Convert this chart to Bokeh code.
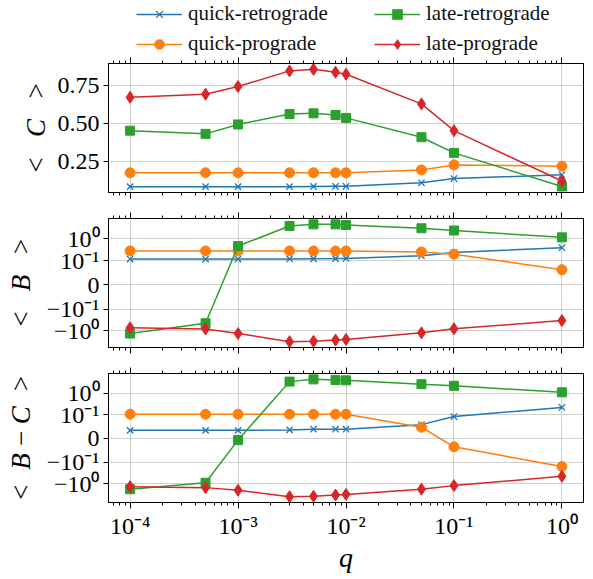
import numpy as np
from bokeh.plotting import figure
from bokeh.models import (Range1d, LogAxis, FixedTicker, CustomJSTickFormatter,
                          Legend, LegendItem, ColumnDataSource)
from bokeh.layouts import column
from bokeh.embed import file_html
from bokeh.resources import INLINE

# ---------------- data ----------------
q = [1e-4, 5e-4, 1e-3, 3e-3, 5e-3, 8e-3, 1e-2, 5e-2, 1e-1, 1.0]
names = ["quick-retrograde", "quick-prograde", "late-retrograde", "late-prograde"]

C_quick_retro = [0.088, 0.088, 0.088, 0.088, 0.089, 0.090, 0.090, 0.113, 0.141, 0.166]
C_quick_pro = [0.179, 0.179, 0.179, 0.179, 0.179, 0.179, 0.179, 0.198, 0.231, 0.222]
C_late_retro = [0.456, 0.435, 0.497, 0.565, 0.570, 0.559, 0.540, 0.413, 0.310, 0.089]
C_late_pro = [0.675, 0.696, 0.746, 0.849, 0.859, 0.840, 0.827, 0.632, 0.456, 0.125]

B_quick_retro = [0.119, 0.119, 0.119, 0.121, 0.123, 0.125, 0.127, 0.168, 0.237, 0.396]
B_quick_pro = [0.281, 0.281, 0.281, 0.281, 0.281, 0.281, 0.281, 0.254, 0.200, 0.063]
B_late_retro = [-1.31, -0.44, 0.47, 3.92, 4.65, 4.65, 4.34, 3.08, 2.43, 1.18]
B_late_pro = [-0.71, -0.81, -1.31, -3.08, -2.98, -2.60, -2.43, -1.22, -0.79, -0.334]

BC_quick_retro = [0.034, 0.034, 0.034, 0.036, 0.039, 0.039, 0.039, 0.058, 0.092, 0.215]
BC_quick_pro = [0.104, 0.104, 0.104, 0.104, 0.104, 0.104, 0.104, 0.047, -0.035, -0.157]
BC_late_retro = [-1.78, -0.89, -0.0068, 3.43, 4.37, 4.08, 3.94, 2.60, 2.19, 1.09]
BC_late_pro = [-1.35, -1.50, -1.97, -3.94, -3.81, -3.32, -3.10, -1.78, -1.21, -0.445]

x_tick_values = [1e-4, 1e-3, 1e-2, 1e-1, 1.0]
y1_ticks = [0.25, 0.50, 0.75]
sym_tick_values = [-1.0, -0.1, 0.0, 0.1, 1.0]
sym_tick_labels = ["\u221210\u2070", "\u221210\u207b\u00b9", "0", "10\u207b\u00b9", "10\u2070"]

colors = ["#1f77b4", "#ff7f0e", "#2ca02c", "#d62728"]
markers = ["x", "circle", "square", "diamond"]
msizes = [9, 10, 9, 12]

FONT = "serif"

# symmetric log transform (linthresh 0.1, linscale 1, base 10)
LINTHRESH = 0.1
LINSCALE_ADJ = 1.0 / (1.0 - 1.0 / 10.0)


def symlog(v):
    v = np.asarray(v, dtype=float)
    a = np.abs(v)
    logpart = np.sign(v) * (LINSCALE_ADJ + np.log10(np.maximum(a, 1e-300) / LINTHRESH))
    return np.where(a <= LINTHRESH, v / LINTHRESH * LINSCALE_ADJ, logpart)


def padded(vals):
    arr = np.concatenate([np.asarray(v, float) for v in vals])
    lo, hi = arr.min(), arr.max()
    pad = 0.05 * (hi - lo)
    return Range1d(lo - pad, hi + pad)


minor = []
for e in range(-5, 1):
    for k in range(2, 10):
        minor.append(k * 10.0 ** e)

FRAME_W = 475
FRAME_H = 129
x_lo, x_hi = 10 ** -4.2, 10 ** 0.2

x_fmt_code = """
const e = Math.round(Math.log10(tick));
const sup = {"-":"\u207b","0":"\u2070","1":"\u00b9","2":"\u00b2","3":"\u00b3","4":"\u2074","5":"\u2075","6":"\u2076","7":"\u2077","8":"\u2078","9":"\u2079"};
return "10" + String(e).split("").map(c => sup[c]).join("");
"""
blank_code = "return '';"


def make_fig(y_range, top, bottom, show_x, ylabel_standoff=8):
    p = figure(x_axis_type="log", x_range=Range1d(x_lo, x_hi), y_range=y_range,
               frame_width=FRAME_W, frame_height=FRAME_H,
               min_border_left=108, min_border_right=2,
               min_border_top=top, min_border_bottom=bottom,
               output_backend="svg", toolbar_location=None,
               background_fill_color="white", border_fill_color="white")
    p.outline_line_color = "black"
    p.outline_line_width = 1
    bottom_axis = p.below[0]
    xt = FixedTicker(ticks=x_tick_values, minor_ticks=minor)
    bottom_axis.ticker = xt
    p.xgrid.ticker = xt
    top_axis = LogAxis(ticker=FixedTicker(ticks=x_tick_values, minor_ticks=minor),
                       formatter=CustomJSTickFormatter(code=blank_code))
    p.add_layout(top_axis, "above")
    for ax in [bottom_axis, top_axis]:
        ax.major_tick_out = 6
        ax.major_tick_in = 0
        ax.minor_tick_out = 3
        ax.minor_tick_in = 0
        ax.axis_line_color = "black"
        ax.major_tick_line_color = "black"
        ax.minor_tick_line_color = "black"
        ax.major_label_text_font = FONT
    top_axis.major_label_standoff = 0
    top_axis.major_label_text_font_size = "1px"
    if show_x:
        bottom_axis.formatter = CustomJSTickFormatter(code=x_fmt_code)
        bottom_axis.major_label_text_font_size = "24px"
        bottom_axis.major_label_text_color = "black"
        bottom_axis.major_label_standoff = 4
        bottom_axis.axis_label = "q"
        bottom_axis.axis_label_text_font = FONT
        bottom_axis.axis_label_text_font_style = "italic"
        bottom_axis.axis_label_text_font_size = "28px"
        bottom_axis.axis_label_standoff = 0
        bottom_axis.axis_label_text_color = "black"
    else:
        bottom_axis.formatter = CustomJSTickFormatter(code=blank_code)
        bottom_axis.major_label_standoff = 0
        bottom_axis.major_label_text_font_size = "1px"
    p.yaxis.major_tick_out = 5
    p.yaxis.major_tick_in = 0
    p.yaxis.minor_tick_out = 0
    p.yaxis.minor_tick_in = 0
    p.yaxis.axis_line_color = "black"
    p.yaxis.major_label_text_font = FONT
    p.yaxis.major_label_text_font_size = "24px"
    p.yaxis.major_label_text_color = "black"
    p.yaxis.major_label_standoff = 4
    p.yaxis.axis_label_text_font = FONT
    p.yaxis.axis_label_text_font_size = "27px"
    p.yaxis.axis_label_text_font_style = "italic"
    p.yaxis.axis_label_text_color = "black"
    p.yaxis.axis_label_standoff = ylabel_standoff
    for g in [p.xgrid, p.ygrid]:
        g.grid_line_color = "#b0b0b0"
        g.grid_line_alpha = 0.6
        g.grid_line_width = 1
    return p


def draw(p, series):
    items = []
    for name, ys, col, mk, ms in zip(names, series, colors, markers, msizes):
        src = ColumnDataSource(dict(x=q, y=ys))
        lr = p.line("x", "y", source=src, line_color=col, line_width=1.5)
        if mk == "x":
            sr = p.scatter("x", "y", source=src, marker=mk, size=ms, line_color=col,
                           line_width=1.3)
        else:
            sr = p.scatter("x", "y", source=src, marker=mk, size=ms, fill_color=col,
                           line_color=col, line_width=1)
        items.append(LegendItem(label=name, renderers=[lr, sr]))
    return items


C_series = [C_quick_retro, C_quick_pro, C_late_retro, C_late_pro]

# ---------- legend strip (same geometry as the panels; its data lie outside its view) ----------
LEG_H = 56
pl = figure(frame_width=FRAME_W, frame_height=LEG_H, min_border_left=108, min_border_right=2,
            min_border_top=0, min_border_bottom=0,
            x_range=Range1d(10, 11), y_range=Range1d(10, 11),
            x_axis_location=None, y_axis_location=None, output_backend="svg",
            toolbar_location=None, background_fill_color="white", border_fill_color="white")
pl.grid.visible = False
pl.outline_line_color = None
leg_items = draw(pl, C_series)
legend = Legend(items=leg_items, orientation="vertical", nrows=2, location=(28, 0))
legend.label_text_font = FONT
legend.label_text_font_size = "21px"
legend.label_text_color = "#111111"
legend.glyph_width = 46
legend.glyph_height = 24
legend.label_height = 24
legend.label_width = 181
legend.label_standoff = 6
legend.spacing = 5
legend.padding = 0
legend.margin = 0
legend.border_line_color = None
legend.background_fill_alpha = 0
pl.add_layout(legend, "center")

# ---------- panel 1: <C> ----------
p1 = make_fig(padded(C_series), 7, 13, False, ylabel_standoff=4)
yt1 = FixedTicker(ticks=y1_ticks)
p1.yaxis.ticker = yt1
p1.ygrid.ticker = yt1
p1.yaxis.formatter = CustomJSTickFormatter(code="return tick.toFixed(2);")
p1.yaxis.axis_label = "<\u2002\u2009C\u2002\u2009>"
draw(p1, C_series)

# ---------- panels 2 and 3: symlog ----------
sym_pos = [float(v) for v in symlog(sym_tick_values)]
sym_fmt = CustomJSTickFormatter(args=dict(pos=sym_pos, lab=sym_tick_labels), code="""
let best = 0, bd = Infinity;
for (let i = 0; i < pos.length; i++) { const d = Math.abs(pos[i] - tick); if (d < bd) { bd = d; best = i; } }
return lab[best];
""")

B_series = [list(symlog(s)) for s in [B_quick_retro, B_quick_pro, B_late_retro, B_late_pro]]
p2 = make_fig(padded(B_series), 13, 13, False)
yt2 = FixedTicker(ticks=sym_pos)
p2.yaxis.ticker = yt2
p2.ygrid.ticker = yt2
p2.yaxis.formatter = sym_fmt
p2.yaxis.axis_label = "<\u2002\u2009B\u2002\u2009>"
draw(p2, B_series)

BC_series = [list(symlog(s)) for s in [BC_quick_retro, BC_quick_pro, BC_late_retro, BC_late_pro]]
p3 = make_fig(padded(BC_series), 13, 68, True)
yt3 = FixedTicker(ticks=sym_pos)
p3.yaxis.ticker = yt3
p3.ygrid.ticker = yt3
p3.yaxis.formatter = sym_fmt
p3.yaxis.axis_label = "<\u2002B\u2009\u2212\u2009C\u2002>"
draw(p3, BC_series)

layout = column(pl, p1, p2, p3, spacing=0)
open("out.html", "w").write(file_html(layout, INLINE))
